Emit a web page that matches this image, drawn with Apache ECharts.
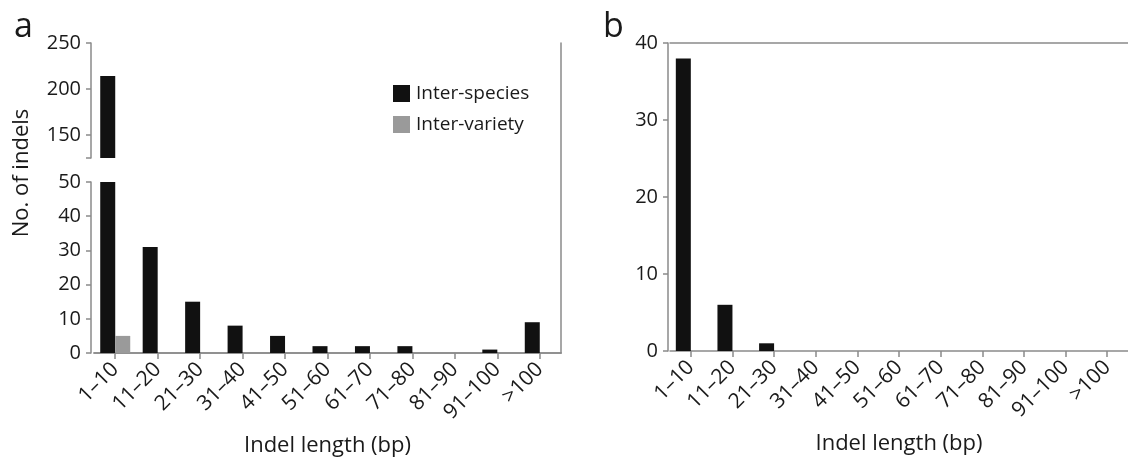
<!DOCTYPE html>
<html>
<head>
<meta charset="utf-8">
<script src="https://cdn.jsdelivr.net/npm/echarts@6/dist/echarts.min.js"></script>
<style>
  html, body { margin: 0; padding: 0; background: #fff; }
  #chart { width: 1128px; height: 460px; }
</style>
</head>
<body>
<div id="chart"></div>
<script>
// indel length bins
var categories = ['1–10', '11–20', '21–30', '31–40', '41–50', '51–60', '61–70', '71–80', '81–90', '91–100', '>100'];
// panel a
var interSpecies = [214, 31, 15, 8, 5, 2, 2, 2, 0, 1, 9];
var interVariety = [5, 0, 0, 0, 0, 0, 0, 0, 0, 0, 0];
// panel b
var panelB = [38, 6, 1, 0, 0, 0, 0, 0, 0, 0, 0];
var panelBVariety = [0, 0, 0, 0, 0, 0, 0, 0, 0, 0, 0];
// broken axis of panel a
var upperTicks = [125, 150, 200, 250];
var upperLabels = [150, 200, 250];

var AXIS = '#8a8a8a';
var TEXT = '#1a1a1a';
var FONT = 'Open Sans';

var chart = echarts.init(document.getElementById('chart'));

function catAxis(grid, extra) {
  var base = {
    type: 'category',
    gridIndex: grid,
    data: categories,
    axisLine: { show: true, lineStyle: { color: AXIS, width: 1.5 } },
    axisTick: { show: true, alignWithLabel: true, length: 6, lineStyle: { color: AXIS, width: 1.5 } },
    axisLabel: { rotate: 45, margin: 13, fontSize: 21, color: TEXT, fontFamily: FONT, interval: 0 },
    name: 'Indel length (bp)',
    nameLocation: 'middle',
    nameGap: 82,
    nameTextStyle: { fontSize: 22, color: TEXT, fontFamily: FONT }
  };
  return Object.assign(base, extra || {});
}

function frameX(grid) {
  return {
    type: 'category', gridIndex: grid, position: 'top', data: categories,
    axisLine: { show: true, lineStyle: { color: AXIS, width: 1.5 } },
    axisTick: { show: false }, axisLabel: { show: false }
  };
}

function valAxis(grid, min, max, interval, extra) {
  var base = {
    type: 'value', gridIndex: grid, min: min, max: max, interval: interval, offset: 3,
    axisLine: { show: true, lineStyle: { color: AXIS, width: 1.5 } },
    axisTick: { show: true, length: 5, lineStyle: { color: AXIS, width: 1.5 } },
    axisLabel: { margin: 10, fontSize: 20, color: TEXT, fontFamily: FONT },
    splitLine: { show: false }
  };
  return Object.assign(base, extra || {});
}

function bars(name, data, xi, yi, color) {
  return {
    type: 'bar', name: name, data: data, xAxisIndex: xi, yAxisIndex: yi,
    barWidth: 15, barGap: '0%', clip: true,
    itemStyle: { color: color },
    emphasis: { disabled: true }
  };
}

var option = {
  animation: false,
  textStyle: { fontFamily: FONT },
  title: [
    { text: 'a', left: 9, top: 5, textStyle: { fontSize: 34, fontWeight: 'normal', color: TEXT, fontFamily: FONT } },
    { text: 'b', left: 598, top: 5, textStyle: { fontSize: 34, fontWeight: 'normal', color: TEXT, fontFamily: FONT } }
  ],
  legend: {
    orient: 'vertical', left: 388, top: 79,
    itemWidth: 17, itemHeight: 17, itemGap: 12,
    icon: 'rect',
    data: ['Inter-species', 'Inter-variety'],
    textStyle: { fontSize: 19, color: TEXT, fontFamily: FONT, padding: [0, 0, 0, 1] }
  },
  graphic: [{
    type: 'text', x: 22, y: 173, rotation: Math.PI / 2,
    style: { text: 'No. of indels', fontSize: 22, fill: TEXT, fontFamily: FONT, align: 'center', verticalAlign: 'middle' }
  }],
  grid: [
    { left: 94, top: 43, width: 467, height: 115 },   // a upper
    { left: 94, top: 182, width: 467, height: 171 },  // a lower
    { left: 94, top: 43, width: 467, height: 310 },   // a frame
    { left: 670, top: 43, width: 465, height: 310 }   // b
  ],
  xAxis: [
    { type: 'category', gridIndex: 0, data: categories, show: false },
    catAxis(1),
    frameX(2),
    catAxis(3),
    frameX(3)
  ],
  yAxis: [
    valAxis(0, 125, 250, 25, {
      axisTick: { show: true, length: 5, customValues: upperTicks, lineStyle: { color: AXIS, width: 1.5 } },
      axisLabel: { margin: 10, fontSize: 20, color: TEXT, fontFamily: FONT, customValues: upperLabels }
    }),
    valAxis(1, 0, 50, 10),
    {
      type: 'value', gridIndex: 2, position: 'right', min: 0, max: 1,
      axisLine: { show: true, lineStyle: { color: AXIS, width: 1.5 } },
      axisTick: { show: false }, axisLabel: { show: false }, splitLine: { show: false }
    },
    valAxis(3, 0, 40, 10, { offset: 2 })
  ],
  series: [
    bars('Inter-species', interSpecies, 0, 0, '#111111'),
    bars('Inter-variety', interVariety, 0, 0, '#9a9a9a'),
    bars('Inter-species', interSpecies, 1, 1, '#111111'),
    bars('Inter-variety', interVariety, 1, 1, '#9a9a9a'),
    bars('Inter-species', panelB, 3, 3, '#111111'),
    bars('Inter-variety', panelBVariety, 3, 3, '#9a9a9a')
  ]
};

chart.setOption(option);
</script>
</body>
</html>
